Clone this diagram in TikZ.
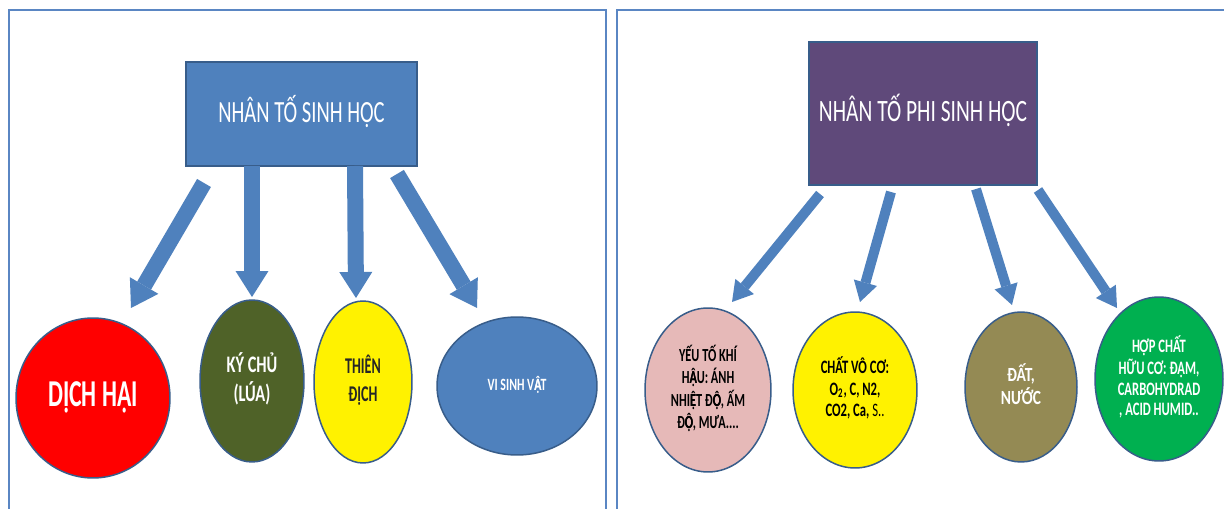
\documentclass[tikz,border=0pt]{standalone}
\usepackage{fontspec}
\setmainfont{Carlito}
\usepackage{graphicx}
\usetikzlibrary{shapes.geometric,arrows.meta}

\definecolor{frameblue}{HTML}{5A86C3}
\definecolor{boxblue}{HTML}{4F81BD}
\definecolor{edgeblue}{HTML}{385D8A}
\definecolor{boxpurple}{HTML}{5F497A}
\definecolor{hostolive}{HTML}{4F6228}
\definecolor{soilkhaki}{HTML}{948A54}
\definecolor{climatepink}{HTML}{E6B9B8}
\definecolor{organicgreen}{HTML}{00B050}

% text of the slides is drawn taller than wide
\newcommand{\tall}[2][1.5]{\scalebox{1}[#1]{\begin{tabular}{@{}c@{}}#2\end{tabular}}}
% Carlito loses the circumflex on letters with a dot below: lay the two glyphs over each other
\newcommand{\dotcirc}[2]{\makebox[0pt][l]{#1}#2}

\tikzset{
  panel/.style={draw=frameblue,line width=0.04cm},
  factor/.style={rectangle,draw=edgeblue,line width=0.03cm,inner sep=0pt,text=white},
  blob/.style={ellipse,draw=edgeblue,line width=0.03cm,inner sep=0pt},
  bigarrow/.style={boxblue,line width=0.32cm,-{Triangle[width=0.66cm,length=0.52cm,line width=0pt]}},
  thinarrow/.style={boxblue,line width=0.2cm,-{Triangle[width=0.48cm,length=0.4cm,line width=0pt]}}
}

\begin{document}
\begin{tikzpicture}[x=0.02cm,y=-0.02cm]
  \useasboundingbox (0,0) rectangle (1224,509);
  \clip (0,0) rectangle (1224,509);
  \fill[white] (0,0) rectangle (1224,509);
  % the two slides, cut at the bottom
  \draw[panel] (9,530) -- (9,10) -- (606,10) -- (606,530);
  \draw[panel] (617,530) -- (617,10) -- (1240,10);

  % biotic factors
  \node[factor,fill=boxblue,minimum width=4.62cm,minimum height=2.08cm,
        font=\fontsize{11.7}{14}\selectfont] (sinhhoc) at (301.5,114) {\tall{NHÂN TỐ SINH HỌC}};
  \node[blob,fill=red,text=white,minimum width=3.08cm,minimum height=3.2cm,
        font=\bfseries\fontsize{13.5}{16}\selectfont] (dichhai) at (93,398) {\tall[1.6]{DỊCH HẠI}};
  \node[blob,fill=hostolive,text=white,minimum width=2.08cm,minimum height=3.24cm,
        font=\bfseries\fontsize{9.3}{11.3}\selectfont] (kychu) at (252,381) {\tall[1.45]{KÝ CHỦ\\(LÚA)}};
  \node[blob,fill=yellow,text=black!85,minimum width=1.96cm,minimum height=3.24cm,
        font=\bfseries\fontsize{8}{9.8}\selectfont] (thiendich) at (363,382) {\tall[1.6]{THIÊN\\ĐỊCH}};
  \node[blob,fill=boxblue,text=white,minimum width=3.2cm,minimum height=2.76cm,
        font=\bfseries\fontsize{6.75}{8}\selectfont] (visinhvat) at (517,386)
        {\tall[1.45]{VI SINH V\dotcirc{Ạ}{Â}T}};

  \coordinate (s1) at (204,183); \coordinate (e1) at (131,308);
  \coordinate (s2) at (252,166); \coordinate (e2) at (252,297);
  \coordinate (s3) at (355,166); \coordinate (e3) at (356,298);
  \coordinate (s4) at (397,174); \coordinate (e4) at (477,308);
  \draw[bigarrow] (s1) -- (e1);
  \draw[bigarrow] (s2) -- (e2);
  \draw[bigarrow] (s3) -- (e3);
  \draw[bigarrow] (s4) -- (e4);

  % abiotic factors
  \node[factor,fill=boxpurple,minimum width=4.56cm,minimum height=2.86cm,
        font=\fontsize{12.2}{14}\selectfont] (phisinh) at (923,113.5) {\tall[1.45]{NHÂN TỐ PHI SINH HỌC}};
  \node[blob,fill=climatepink,text=black,minimum width=2.52cm,minimum height=3.28cm,
        font=\bfseries\fontsize{7}{8.2}\selectfont] (khihau) at (708,390)
        {\tall{YẾU TỐ KHÍ\\H\dotcirc{Ạ}{Â}U: ÁNH\\NHI\dotcirc{Ẹ}{Ê}T Đ\dotcirc{Ọ}{Ô}, ẤM\\Đ\dotcirc{Ọ}{Ô}, MƯA....}};
  \node[blob,fill=yellow,text=black,minimum width=2.48cm,minimum height=3.12cm,
        font=\bfseries\fontsize{7.2}{8.1}\selectfont] (voco) at (855,390)
        {\tall{CHẤT VÔ CƠ:\\O\textsubscript{2}, C, N2,\\CO2, Ca, {\mdseries S..}}};
  \node[blob,fill=soilkhaki,text=white,minimum width=2.24cm,minimum height=3cm,
        font=\bfseries\fontsize{8.8}{9}\selectfont] (datnuoc) at (1021,387) {\tall[1.3]{ĐẤT,\\NƯỚC}};
  \node[blob,fill=organicgreen,text=white,minimum width=2.56cm,minimum height=3.28cm,
        font=\bfseries\fontsize{7.2}{7.9}\selectfont] (huuco) at (1159,379)
        {\tall{HỢP CHẤT\\HỮU CƠ: ĐẠM,\\CARBOHYDRAD\\, ACID HUMID..}};

  \coordinate (p1) at (820,194); \coordinate (q1) at (732,302);
  \coordinate (p2) at (891,192); \coordinate (q2) at (860,302);
  \coordinate (p3) at (976,189); \coordinate (q3) at (1012,305);
  \coordinate (p4) at (1038,190); \coordinate (q4) at (1117,308);
  \draw[thinarrow] (p1) -- (q1);
  \draw[thinarrow] (p2) -- (q2);
  \draw[thinarrow] (p3) -- (q3);
  \draw[thinarrow] (p4) -- (q4);
\end{tikzpicture}
\end{document}
